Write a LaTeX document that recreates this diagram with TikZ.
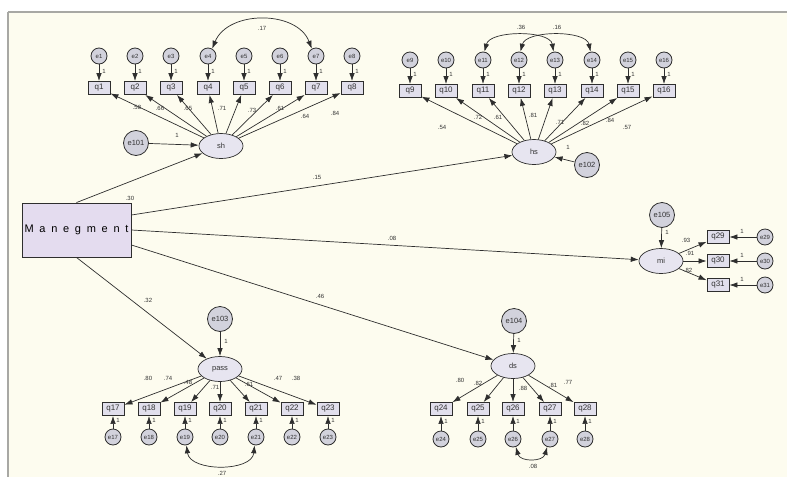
\documentclass[tikz,border=0pt]{standalone}
\usepackage{fontspec}
\setmainfont{Liberation Sans}
\newfontfamily\spacedfont[LetterSpace=52]{Liberation Sans}
\usetikzlibrary{arrows.meta,shapes.geometric}
\definecolor{bgc}{HTML}{FDFCEF}
\definecolor{framec}{HTML}{A8A8A4}
\definecolor{linec}{HTML}{2E2E2E}
\definecolor{boxfill}{HTML}{E1DFEC}
\definecolor{latfill}{HTML}{E7E5F0}
\definecolor{errfill}{HTML}{D2D2DC}
\definecolor{mfill}{HTML}{E4DCEF}
\definecolor{txtc}{HTML}{333333}
\tikzset{
  obs/.style={rectangle, draw=linec, fill=boxfill, line width=0.9pt, minimum width=22pt, minimum height=13pt, inner sep=0pt, font=\fontsize{8}{8}\selectfont, text=txtc},
  lat/.style={ellipse, draw=linec, fill=latfill, line width=0.7pt, minimum width=44pt, minimum height=25pt, inner sep=0pt, font=\fontsize{7.5}{7.5}\selectfont, text=txtc},
  errs/.style={circle, draw=linec, fill=errfill, line width=0.8pt, minimum size=16pt, inner sep=0pt, font=\fontsize{6}{6}\selectfont, text=txtc},
  errb/.style={circle, draw=linec, fill=errfill, line width=0.8pt, minimum size=25pt, inner sep=0pt, font=\fontsize{7.5}{7.5}\selectfont, text=txtc},
  mbox/.style={rectangle, draw=linec, fill=mfill, line width=0.9pt, minimum width=109pt, minimum height=54pt, inner sep=0pt, font=\spacedfont\fontsize{11}{11}\selectfont, text=black},
  pth/.style={draw=linec, line width=0.7pt, -{Latex[length=8pt,width=5.5pt]}},
  cov/.style={draw=linec, line width=0.7pt, {Latex[length=8pt,width=5.5pt]}-{Latex[length=8pt,width=5.5pt]}},
  lab/.style={font=\fontsize{6}{6}\selectfont, text=txtc, inner sep=0pt}
}
\begin{document}
\begin{tikzpicture}[x=1pt,y=-1pt]
\useasboundingbox (0,0) rectangle (787,477);
\fill[white] (0,0) rectangle (787,477);
\fill[bgc] (8,12) rectangle (787,477);
\draw[framec, line width=2pt] (8,12) -- (787,12);
\draw[framec, line width=1.2pt] (8,12) -- (8,477);

% Management
\node[mbox] (M) at (76.5,230) {Manegment};

% latent variables
\node[lat] (sh) at (221,146) {sh};
\node[lat] (hs) at (534,152) {hs};
\node[lat] (mi) at (661,261) {mi};
\node[lat] (pass) at (220,369) {pass};
\node[lat] (ds) at (513,366) {ds};

% disturbances
\node[errb] (e101) at (136,143) {e101};
\node[errb] (e102) at (587,165) {e102};
\node[errb] (e105) at (662,215) {e105};
\node[errb] (e103) at (220,319) {e103};
\node[errb] (e104) at (514,321) {e104};

\draw[pth] (e101) -- (sh);
\draw[pth] (e102) -- (hs);
\draw[pth] (e105) -- (mi);
\draw[pth] (e103) -- (pass);
\draw[pth] (e104) -- (ds);
\node[lab] at (177,135) {1};
\node[lab] at (568,147) {1};
\node[lab] at (667,232) {1};
\node[lab] at (226,341) {1};
\node[lab] at (519,340) {1};

% structural paths
\draw[pth] (M.north) -- (sh);
\draw[pth] ([yshift=15pt]M.east) -- (hs);
\draw[pth] (M.east) -- (mi);
\draw[pth] (M.south) -- (pass);
\draw[pth] ([yshift=-15pt]M.east) -- (ds);
\node[lab] at (130,198) {.30};
\node[lab] at (317,177) {.15};
\node[lab] at (392,238) {.08};
\node[lab] at (148,300) {.32};
\node[lab] at (320,296) {.46};

% sh indicators
\foreach \i/\x in {1/99,2/135,3/171,4/208,5/244,6/280,7/316,8/352}{
  \node[obs] (q\i) at (\x,88) {q\i};
  \node[errs] (e\i) at (\x,56) {e\i};
  \draw[pth] (e\i) -- (q\i);
  \draw[pth] (sh) -- (q\i);
  \node[lab] at (\x+5,71) {1};
}
\foreach \p/\v in {{(137,107)}/.58,{(160,108)}/.66,{(188,108)}/.65,{(222,108)}/.71,{(252,110)}/.73,{(280,108)}/.61,{(305,116)}/.64,{(335,113)}/.84}{
  \node[lab] at \p {\v};
}
\draw[cov] (e4.60) .. controls (228,10) and (297,10) .. (e7.120);
\node[lab] at (262,28) {.17};

% hs indicators
\foreach \i/\x in {9/410,10/446,11/483,12/519,13/555,14/592,15/628,16/664}{
  \node[obs] (q\i) at (\x,91) {q\i};
  \node[errs] (e\i) at (\x,60) {e\i};
  \draw[pth] (e\i) -- (q\i);
  \draw[pth] (hs) -- (q\i);
  \node[lab] at (\x+5,74) {1};
}
\foreach \p/\v in {{(442,127)}/.54,{(478,117)}/.72,{(498,117)}/.61,{(533,115)}/.81,{(560,122)}/.71,{(585,123)}/.82,{(610,120)}/.84,{(627,127)}/.57}{
  \node[lab] at \p {\v};
}
\draw[cov] (e11.80) .. controls (490,30) and (550,30) .. (e13.100);
\draw[cov] (e12.80) .. controls (526,30) and (586,30) .. (e14.100);
\node[lab] at (521,27) {.36};
\node[lab] at (557,27) {.16};

% mi indicators
\foreach \i/\y in {29/237,30/261,31/285}{
  \node[obs] (q\i) at (718,\y) {q\i};
  \node[errs] (e\i) at (765,\y) {e\i};
  \draw[pth] (e\i) -- (q\i);
  \draw[pth] (mi) -- (q\i);
  \node[lab] at (742,\y-6) {1};
}
\node[lab] at (686,240) {.93};
\node[lab] at (690,253) {.91};
\node[lab] at (688,270) {.82};

% pass indicators
\foreach \i/\x in {17/113,18/149,19/185,20/220,21/256,22/292,23/328}{
  \node[obs] (q\i) at (\x,409) {q\i};
  \node[errs] (e\i) at (\x,437) {e\i};
  \draw[pth] (e\i) -- (q\i);
  \draw[pth] (pass) -- (q\i);
  \node[lab] at (\x+5,420) {1};
}
\foreach \p/\v in {{(148,378)}/.80,{(168,378)}/.74,{(188,382)}/.48,{(215,387)}/.71,{(249,384)}/.61,{(278,378)}/.47,{(296,378)}/.38}{
  \node[lab] at \p {\v};
}
\draw[cov] (e19.-80) .. controls (190,472) and (252,472) .. (e21.-100);
\node[lab] at (222,473) {.27};

% ds indicators
\foreach \i/\x in {24/441,25/478,26/513,27/550,28/585}{
  \node[obs] (q\i) at (\x,409) {q\i};
  \node[errs] (e\i) at (\x,439) {e\i};
  \draw[pth] (e\i) -- (q\i);
  \draw[pth] (ds) -- (q\i);
  \node[lab] at (\x+5,421) {1};
}
\foreach \p/\v in {{(460,380)}/.80,{(478,383)}/.82,{(523,388)}/.88,{(553,385)}/.81,{(568,382)}/.77}{
  \node[lab] at \p {\v};
}
\draw[cov] (e26.-70) .. controls (520,462) and (543,462) .. (e27.-110);
\node[lab] at (533,466) {.08};
\end{tikzpicture}
\end{document}
